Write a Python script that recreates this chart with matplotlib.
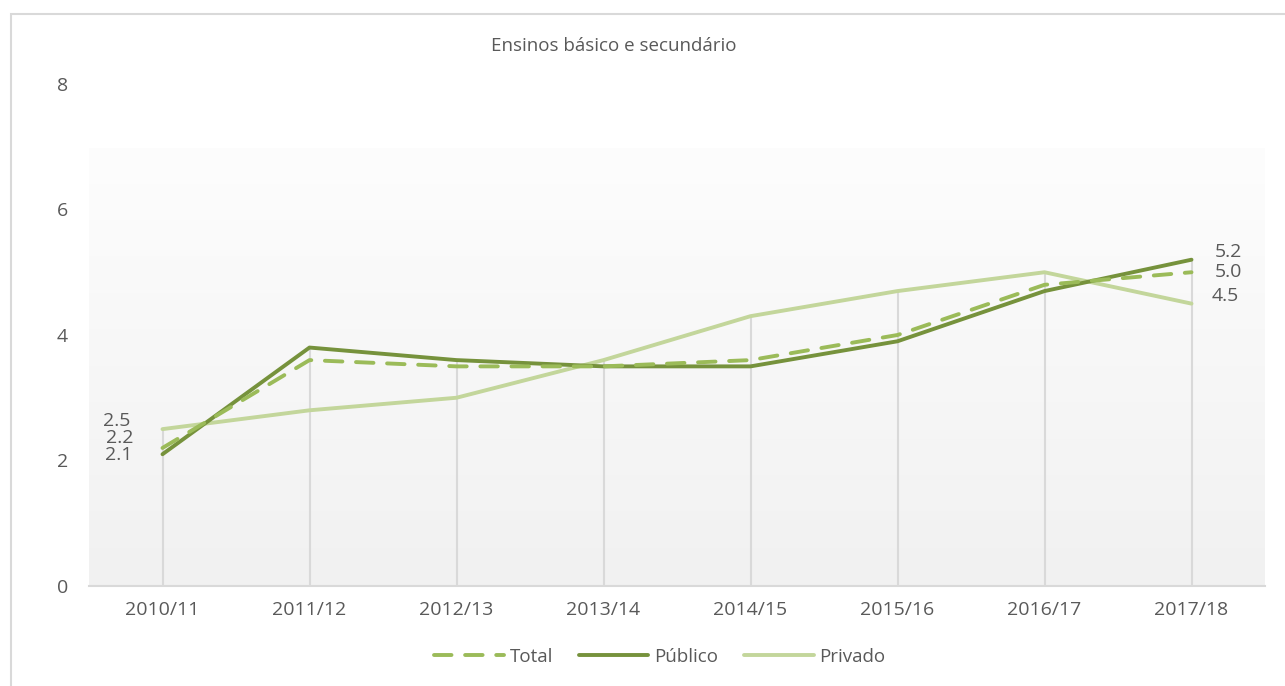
import numpy as np
import matplotlib
matplotlib.use('Agg')
import matplotlib.pyplot as plt
from matplotlib.patches import Rectangle

plt.rcParams['font.family'] = ['Open Sans', 'DejaVu Sans']

years = ['2010/11', '2011/12', '2012/13', '2013/14', '2014/15', '2015/16', '2016/17', '2017/18']
total = [2.2, 3.6, 3.5, 3.5, 3.6, 4.0, 4.8, 5.0]
publico = [2.1, 3.8, 3.6, 3.5, 3.5, 3.9, 4.7, 5.2]
privado = [2.5, 2.8, 3.0, 3.6, 4.3, 4.7, 5.0, 4.5]

c_total = '#9bbb59'
c_pub = '#76923c'
c_priv = '#c3d69b'
txt = '#595959'
grid = '#d9d9d9'
fs = 14

fig = plt.figure(figsize=(12.85, 6.86), dpi=100)
ax = fig.add_axes([89 / 1285, 1 - 586 / 686, 1176 / 1285, 502 / 686])

# outer frame
fig.patches.append(Rectangle((11 / 1285, -0.05), 1.2, (686 - 14) / 686 + 0.05,
                             transform=fig.transFigure, fill=False,
                             edgecolor=grid, lw=1.5))

x = np.arange(len(years))

# gradient background of plot area
grad = np.linspace(1.0, 0.0, 256).reshape(-1, 1)
top_c = np.array([0.992, 0.992, 0.992])
bot_c = np.array([0.945, 0.945, 0.945])
img = top_c * grad[..., None] + bot_c * (1 - grad[..., None])
ax.imshow(img, extent=(0, 1, 0, 0.8725), transform=ax.transAxes,
          aspect='auto', zorder=0)

# drop lines
tops = np.max([total, publico, privado], axis=0)
ax.vlines(x, 0, tops, color=grid, lw=1.5, zorder=1)

ax.plot(x, privado, color=c_priv, lw=2.8, solid_capstyle='round', zorder=3, label='Privado')
ax.plot(x, publico, color=c_pub, lw=2.8, solid_capstyle='round', zorder=4, label='Público')
ax.plot(x, total, color=c_total, lw=2.8, dashes=(4.5, 3.5), dash_capstyle='round',
        zorder=5, label='Total')

# data labels at ends
ax.annotate(f'{privado[0]:.1f}', (x[0], privado[0]), xytext=(-32, 8), textcoords='offset pixels',
            ha='right', va='center', color=txt, fontsize=fs)
ax.annotate(f'{total[0]:.1f}', (x[0], total[0]), xytext=(-29, 10), textcoords='offset pixels',
            ha='right', va='center', color=txt, fontsize=fs)
ax.annotate(f'{publico[0]:.1f}', (x[0], publico[0]), xytext=(-30, -1), textcoords='offset pixels',
            ha='right', va='center', color=txt, fontsize=fs)
ax.annotate(f'{publico[-1]:.1f}', (x[-1], publico[-1]), xytext=(23, 8), textcoords='offset pixels',
            ha='left', va='center', color=txt, fontsize=fs)
ax.annotate(f'{total[-1]:.1f}', (x[-1], total[-1]), xytext=(23, 0), textcoords='offset pixels',
            ha='left', va='center', color=txt, fontsize=fs)
ax.annotate(f'{privado[-1]:.1f}', (x[-1], privado[-1]), xytext=(20, 8), textcoords='offset pixels',
            ha='left', va='center', color=txt, fontsize=fs)

ax.set_xlim(-0.5, len(years) - 0.5)
ax.set_ylim(0, 8)
ax.set_yticks([0, 2, 4, 6, 8])
ax.set_xticks(x)
ax.set_xticklabels(years)
ax.tick_params(axis='both', length=0, colors=txt, labelsize=fs)
ax.tick_params(axis='y', pad=15)
ax.tick_params(axis='x', pad=11)
ax.set_facecolor('none')
for s in ['top', 'right', 'left']:
    ax.spines[s].set_visible(False)
ax.spines['bottom'].set_color(grid)
ax.spines['bottom'].set_linewidth(1.5)

fig.text(614 / 1285, 1 - 46 / 686, 'Ensinos básico e secundário', ha='center', va='center',
         color=txt, fontsize=13.5)

handles, labels = ax.get_legend_handles_labels()
order = [2, 1, 0]
leg = ax.legend([handles[i] for i in order], [labels[i] for i in order],
                loc='center', bbox_to_anchor=(660 / 1285, 1 - 657 / 686),
                bbox_transform=fig.transFigure, ncol=3, frameon=False,
                fontsize=13.5, handlelength=3.7, handletextpad=0.3, columnspacing=1.4)
for t in leg.get_texts():
    t.set_color(txt)

fig.savefig('out.png', dpi=100)
